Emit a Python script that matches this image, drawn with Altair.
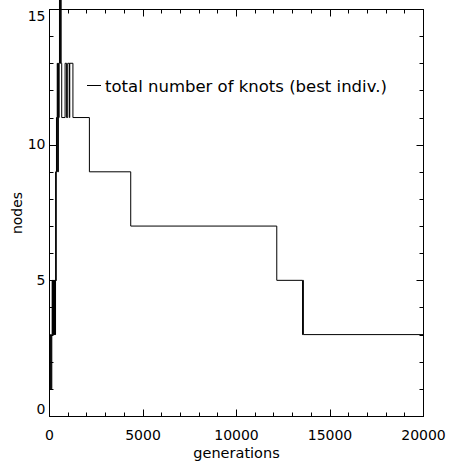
import altair as alt
import pandas as pd

# ---- data ----
generations = [0, 30, 60, 90, 120, 150, 170, 185, 200, 215, 230, 245, 260, 275, 290, 305,
               320, 335, 350, 360, 370, 380, 400, 420, 440, 460, 480, 500, 520, 540, 560,
               590, 620, 650, 680, 860, 940, 1000, 1090, 1110, 1280, 2160, 4370, 12180,
               13560, 13580, 13600, 20000]
nodes = [1, 3, 1, 3, 1, 3, 5, 3, 5, 3, 5, 3, 5, 3, 5, 3,
         5, 3, 5, 9, 5, 9, 11, 9, 13, 11, 9, 13, 11, 13, 17,
         13, 17, 13, 11, 13, 11, 13, 11, 13, 11, 9, 7, 5,
         3, 5, 3, 3]

x_major = [0, 5000, 10000, 15000, 20000]
x_minor = list(range(0, 20001, 1000))
y_major = [0, 5, 10, 15]
y_minor = list(range(0, 16))
legend_label = ["total number of knots (best indiv.)"]

df = pd.DataFrame({"generations": generations, "nodes": nodes})
leg = pd.DataFrame({"label": legend_label})

W, H = 374, 407
FONT = "DejaVu Sans"

xscale = alt.Scale(domain=[0, 20000], nice=False, zero=False)
yscale = alt.Scale(domain=[0, 15], nice=False, zero=False)

common = dict(domain=False, grid=False, tickColor="black", tickWidth=1,
              labelColor="black", labelFont=FONT, labelFontSize=14,
              titleFont=FONT, titleColor="black", titleFontWeight="normal")


def layer(xaxis, yaxis, visible):
    m = alt.Chart(df).mark_line(interpolate="step-after", color="black",
                                strokeWidth=1, clip=False,
                                strokeOpacity=1 if visible else 0)
    return m.encode(
        x=alt.X("generations:Q", scale=xscale, axis=xaxis),
        y=alt.Y("nodes:Q", scale=yscale, axis=yaxis),
        order=alt.Order("generations:Q"),
    )


bottom_major = alt.Axis(orient="bottom", values=x_major, tickSize=7, offset=-7,
                        labelPadding=12, labelFlush=False, labelOverlap=False,
                        format="d", title="generations", titleFontSize=14.5,
                        titleBaseline="alphabetic", titleY=48, **common)
bottom_minor = alt.Axis(orient="bottom", values=x_minor, tickSize=4, offset=-4,
                        labels=False, title=None, **common)
top_major = alt.Axis(orient="top", values=x_major, tickSize=7, offset=-7,
                     labels=False, title=None, **common)
top_minor = alt.Axis(orient="top", values=x_minor, tickSize=4, offset=-4,
                     labels=False, title=None, **common)

left_major = alt.Axis(orient="left", values=y_major, tickSize=7, offset=-7,
                      labelPadding=4, labelFlush=True, labelOverlap=False,
                      format="d", title="nodes", titleFontSize=14,
                      titleBaseline="middle", titleX=-39, **common)
left_minor = alt.Axis(orient="left", values=y_minor, tickSize=4, offset=-4,
                      labels=False, title=None, **common)
right_major = alt.Axis(orient="right", values=y_major, tickSize=7, offset=-7,
                       labels=False, title=None, **common)
right_minor = alt.Axis(orient="right", values=y_minor, tickSize=4, offset=-4,
                       labels=False, title=None, **common)

main = layer(bottom_major, left_major, True)
l2 = layer(bottom_minor, left_minor, False)
l3 = layer(top_major, right_major, False)
l4 = layer(top_minor, right_minor, False)

legend_line = alt.Chart(leg).mark_rule(color="black", strokeWidth=1).encode(
    x=alt.value(38), x2=alt.value(52), y=alt.value(76.5)
)
legend_text = alt.Chart(leg).mark_text(align="left", baseline="alphabetic",
                                       font=FONT, fontSize=16.5, color="black").encode(
    x=alt.value(56), y=alt.value(83), text="label:N"
)

chart = alt.layer(main, l2, l3, l4, legend_line, legend_text).resolve_axis(
    x="independent", y="independent"
).properties(
    width=W, height=H,
    autosize=alt.AutoSizeParams(type="none"),
    padding={"left": 49, "top": 9, "right": 29, "bottom": 51},
    background="white",
).configure_view(stroke="black", strokeWidth=1)

chart.save("out.html", embed_options={"renderer": "svg", "actions": False})
